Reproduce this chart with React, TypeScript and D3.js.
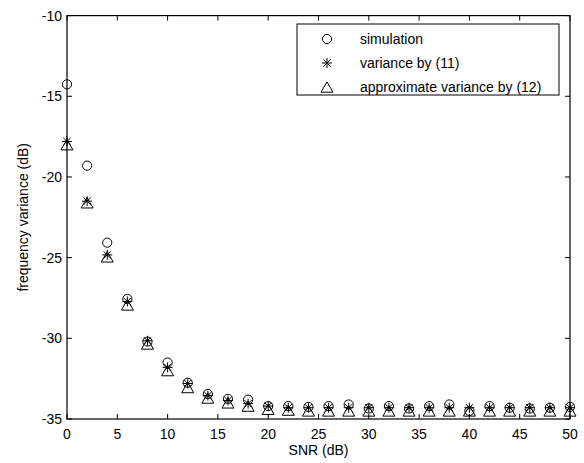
import React from "react";
import * as d3 from "d3";

const snr = [0, 2, 4, 6, 8, 10, 12, 14, 16, 18, 20, 22, 24, 26, 28, 30, 32, 34, 36, 38, 40, 42, 44, 46, 48, 50];
const simulation = [-14.26, -19.3, -24.07, -27.56, -30.2, -31.5, -32.75, -33.45, -33.75, -33.8, -34.2, -34.2, -34.25, -34.2, -34.1, -34.35, -34.2, -34.35, -34.2, -34.1, -34.5, -34.2, -34.3, -34.35, -34.3, -34.25];
const varianceEq11 = [-17.8, -21.5, -24.83, -27.72, -30.15, -31.8, -32.8, -33.55, -33.85, -34.05, -34.2, -34.3, -34.3, -34.3, -34.3, -34.3, -34.3, -34.3, -34.3, -34.3, -34.3, -34.3, -34.3, -34.3, -34.3, -34.3];
const approxEq12 = [-18.0, -21.6, -24.95, -27.93, -30.35, -32.0, -33.05, -33.7, -34.0, -34.2, -34.4, -34.45, -34.5, -34.5, -34.5, -34.5, -34.5, -34.5, -34.5, -34.5, -34.5, -34.5, -34.5, -34.5, -34.5, -34.5];
const xTicks = [0, 5, 10, 15, 20, 25, 30, 35, 40, 45, 50];
const yTicks = [-10, -15, -20, -25, -30, -35];
const legendLabels = ["simulation", "variance by (11)", "approximate variance by (12)"];

const L = 67, R = 570, T = 15.6, B = 419;
const FONT = "'Liberation Sans', Arial, sans-serif";

function Circle({ x, y }: { x: number; y: number }) {
  return <circle cx={x} cy={y} r={4.6} fill="none" stroke="#000" strokeWidth={1} />;
}
function Star({ x, y }: { x: number; y: number }) {
  const s = 5;
  const d = s * 0.72;
  return (
    <path
      d={`M${x - s},${y}L${x + s},${y}M${x},${y - s}L${x},${y + s}M${x - d},${y - d}L${x + d},${y + d}M${x - d},${y + d}L${x + d},${y - d}`}
      stroke="#000"
      strokeWidth={1}
      fill="none"
    />
  );
}
function Tri({ x, y }: { x: number; y: number }) {
  const w = 6, h = 5.2;
  return (
    <path d={`M${x},${y - h}L${x + w},${y + h}L${x - w},${y + h}Z`} fill="none" stroke="#000" strokeWidth={1} />
  );
}

export default function App() {
  const xs = d3.scaleLinear().domain([0, 50]).range([L, R]);
  const ys = d3.scaleLinear().domain([-35, -10]).range([B, T]);
  const tl = 5;
  return (
    <svg width={584} height={463} style={{ position: "absolute", left: 0, top: 0, background: "#fff" }} fontFamily={FONT}>
      <rect x={0} y={0} width={584} height={463} fill="#fff" />
      {xTicks.map((t) => (
        <g key={"xt" + t}>
          <line x1={xs(t)} x2={xs(t)} y1={B} y2={B - tl} stroke="#000" />
          <line x1={xs(t)} x2={xs(t)} y1={T} y2={T + tl} stroke="#000" />
          <text x={xs(t)} y={439} fontSize={14} textAnchor="middle" fill="#000">{t}</text>
        </g>
      ))}
      {yTicks.map((t) => (
        <g key={"yt" + t}>
          <line x1={L} x2={L + tl} y1={ys(t)} y2={ys(t)} stroke="#000" />
          <line x1={R} x2={R - tl} y1={ys(t)} y2={ys(t)} stroke="#000" />
          <text x={62} y={ys(t) + 5} fontSize={14} textAnchor="end" fill="#000">{t}</text>
        </g>
      ))}
      <rect x={L} y={T} width={R - L} height={B - T} fill="none" stroke="#000" strokeWidth={1.2} />
      {snr.map((s, i) => (
        <g key={"p" + s}>
          <Tri x={xs(s)} y={ys(approxEq12[i])} />
          <Star x={xs(s)} y={ys(varianceEq11[i])} />
          <Circle x={xs(s)} y={ys(simulation[i])} />
        </g>
      ))}
      <rect x={297} y={24} width={262} height={71} fill="#fff" stroke="#000" strokeWidth={1} />
      <Circle x={327} y={39} />
      <Star x={327} y={63} />
      <Tri x={327} y={87} />
      {legendLabels.map((lab, i) => (
        <text key={lab} x={360} y={39 + i * 24 + 5} fontSize={14} fill="#000">{lab}</text>
      ))}
      <text x={(L + R) / 2} y={455} fontSize={14} textAnchor="middle" fill="#000">SNR (dB)</text>
      <text transform={`translate(28,${(T + B) / 2}) rotate(-90)`} fontSize={14} textAnchor="middle" fill="#000">frequency variance (dB)</text>
    </svg>
  );
}
